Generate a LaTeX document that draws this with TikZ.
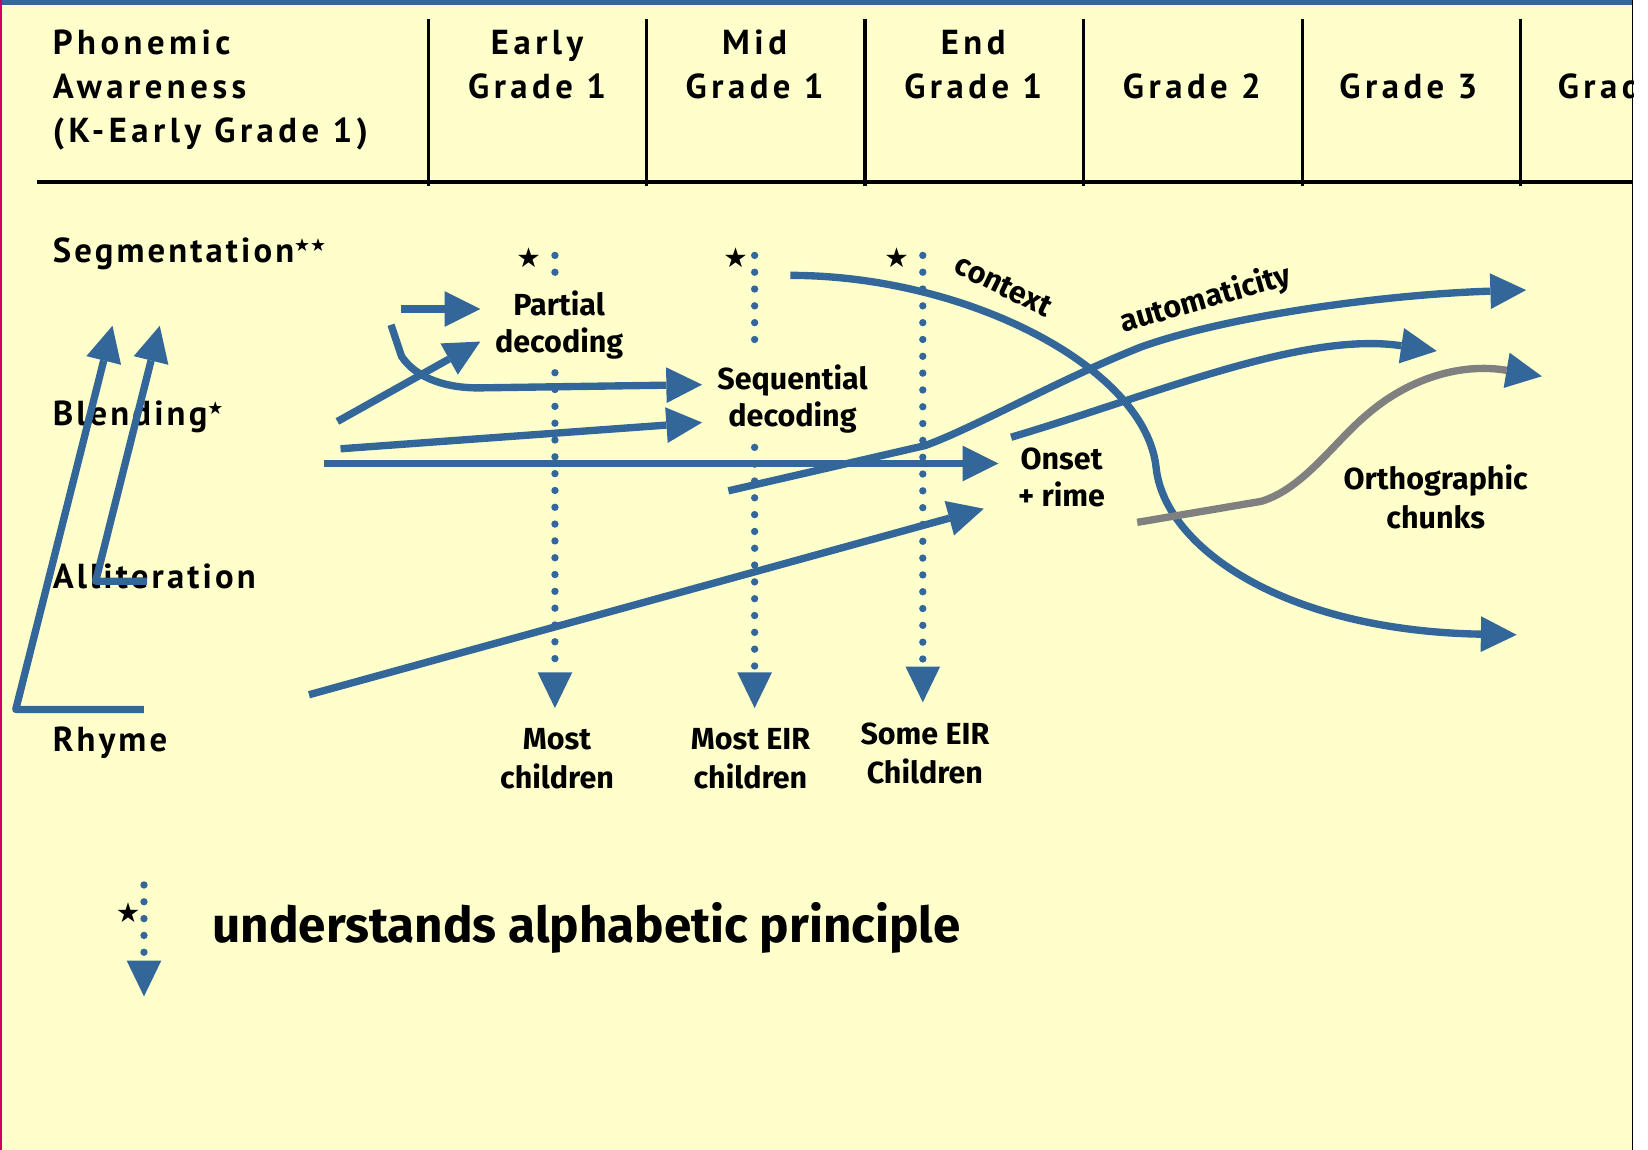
\documentclass[tikz,border=0pt]{standalone}
\usepackage{fontspec}
\usetikzlibrary{arrows.meta}
\newfontfamily\headfont[LetterSpace=13]{PT Sans}
\newfontfamily\rowfont[LetterSpace=9]{PT Sans}
\newfontfamily\labelfont{Fira Sans}
\newfontfamily\starfont{DejaVu Sans}
\definecolor{stepblue}{HTML}{336699}
\definecolor{sheet}{HTML}{FFFFCC}
\definecolor{chunkgray}{HTML}{808080}
\definecolor{pageedge}{HTML}{CC0066}
\tikzset{
    flow/.style={draw=stepblue, line width=7pt,
        -{Triangle[length=34pt,width=34pt,line width=0pt]}},
    dotline/.style={draw=stepblue, line width=7pt, line cap=round,
        dash pattern=on 0pt off 16pt},
    dottip/.style={-{Triangle[length=34pt,width=33pt,line width=0pt]},
        shorten >=17pt},
    headtext/.style={font=\headfont\bfseries\fontsize{33}{42}\selectfont,
        inner sep=0pt, align=center, anchor=base},
    rowtext/.style={font=\rowfont\bfseries\fontsize{33}{36}\selectfont,
        inner sep=0pt, anchor=base west},
    stagetext/.style={font=\labelfont\bfseries\fontsize{29}{35}\selectfont,
        align=center, anchor=base, inner sep=2pt},
    kidtext/.style={stagetext, font=\labelfont\bfseries\fontsize{29}{37}\selectfont},
    startext/.style={font=\starfont\fontsize{26}{26}\selectfont, inner sep=0pt}
}
\newcommand{\smallstars}[1]{\raisebox{11pt}{\starfont\fontsize{17}{17}\selectfont #1}}
\begin{document}
\begin{tikzpicture}[x=1pt,y=-1pt]
                \useasboundingbox (0,0) rectangle (1568,1094);
                \fill[white] (0,0) rectangle (1568,1094);
                \fill[sheet] (0,0) rectangle (1553,1094);
                \fill[stepblue] (0,0) rectangle (1553,4.5);
                \fill[pageedge] (0,0) rectangle (1.5,1094);
                \draw[line width=3.5pt]
                    (35,173) -- (1553,173);
                \draw[line width=3pt]
                    (408,18) -- (408,177);
                \draw[line width=3pt]
                    (615,18) -- (615,177);
                \draw[line width=3pt]
                    (823,18) -- (823,177);
                \draw[line width=3pt]
                    (1031,18) -- (1031,177);
                \draw[line width=3pt]
                    (1239,18) -- (1239,177);
                \draw[line width=3pt]
                    (1447,18) -- (1447,177);
                \node[headtext, anchor=base west, align=left] (pa) at (50,136)
                    {Phonemic\\Awareness\\(K-Early Grade 1)};
                \node[headtext] (early) at (511,94) {Early\\Grade 1};
                \node[headtext] (mid) at (718,94) {Mid\\Grade 1};
                \node[headtext] (endg1) at (926,94) {End\\Grade 1};
                \node[headtext] (g2) at (1134,94) {Grade 2};
                \node[headtext] (g3) at (1340,94) {Grade 3};
                \node[headtext, anchor=base west] (g4) at (1482,94) {Grade 4};
                \fill[white] (1554.5,5) rectangle (1568,1094);
                \draw[line width=1.2pt]
                    (1553.5,0) -- (1553.5,1094);
                \node[rowtext] (seg) at (50,250) {Segmentation\smallstars{★★}};
                \node[rowtext] (blend) at (50,405) {Blending\smallstars{★}};
                \node[rowtext] (allit) at (50,560) {Alliteration};
                \node[rowtext] (rhyme) at (50,715) {Rhyme};
                \node[stagetext, inner sep=13pt] (partial) at (532,335) {Partial\\decoding};
                \node[stagetext, inner sep=13pt] (seq) at (754,406) {Sequential\\decoding};
                \node[stagetext] (onset) at (1010,482) {Onset\\+ rime};
                \node[kidtext] (ortho) at (1366,503) {Orthographic\\chunks};
                \node[kidtext] (most) at (530,750) {Most\\children};
                \node[kidtext] (mosteir) at (714,750) {Most EIR\\children};
                \node[kidtext] (someeir) at (880,745) {Some EIR\\Children};
                \node[stagetext, anchor=center, rotate=-26] (ctx) at (955,272) {context};
                \node[stagetext, anchor=center, rotate=16] (auto) at (1147,285) {automaticity};
                \node[startext] (stara) at (503,245) {★};
                \node[startext] (starb) at (700,245) {★};
                \node[startext] (starc) at (853,245) {★};
                \node[startext] (keystar) at (122,868) {★};
                \node[font=\labelfont\bfseries\fontsize{47}{50}\selectfont,
                    anchor=base west, inner sep=0pt] (key) at (202,897)
                    {understands alphabetic principle};
                \coordinate (dota) at (528,243);
                \coordinate (dotb) at (718,243);
                \coordinate (dotc) at (878,243);
                \coordinate (keytop) at (137,842);
                \coordinate (keyend) at (137,965);
                \draw[dotline]
                    (dota) -- (dota |- partial.north);
                \draw[dotline, dottip]
                    (dota |- partial.south) -- (dota |- most.north);
                \draw[dotline, shorten >=10pt]
                    (dotb) -- (dotb |- seq.north);
                \draw[dotline, dottip]
                    (dotb |- seq.south) -- (dotb |- mosteir.north);
                \draw[dotline, dottip]
                    (dotc) -- (dotc |- someeir.north);
                \draw[dotline, dottip]
                    (keytop) -- (keyend);
                \coordinate (rhymeend) at (137,675);
                \coordinate (segtipa) at (107,310);
                \coordinate (allitend) at (140,553);
                \coordinate (segtipb) at (152,310);
                \coordinate (blendtail) at (382,294);
                \coordinate (partialtipa) at (457,294);
                \coordinate (blendtailb) at (321,401);
                \coordinate (partialtipb) at (457,325);
                \coordinate (hooktail) at (372,309);
                \coordinate (seqtipa) at (668,366);
                \coordinate (blendtailc) at (324,427);
                \coordinate (seqtipb) at (668,402);
                \coordinate (blendtaild) at (308,441);
                \coordinate (onsettipa) at (950,441);
                \coordinate (rhymetail) at (294,661);
                \coordinate (onsettipb) at (936,484);
                \coordinate (autotail) at (693,467);
                \coordinate (autotip) at (1452,276);
                \coordinate (onsettail) at (962,416);
                \coordinate (onsettip) at (1367,334);
                \coordinate (ctxtail) at (752,262);
                \coordinate (ctxtip) at (1443,604);
                \coordinate (chunktail) at (1082,497);
                \coordinate (chunktip) at (1467,358);
                \draw[flow, line join=round]
                    (rhymeend) -- (15,675) -- (segtipa);
                \draw[flow, line join=round]
                    (allitend) -- (91,553) -- (segtipb);
                \draw[flow]
                    (blendtail) -- (partialtipa);
                \draw[flow]
                    (blendtailb) -- (partialtipb);
                \draw[flow]
                    (hooktail) -- (382,339) .. controls (396,360) and (425,370) .. (460,369) -- (seqtipa);
                \draw[flow]
                    (blendtailc) -- (seqtipb);
                \draw[flow]
                    (blendtaild) -- (onsettipa);
                \draw[flow]
                    (rhymetail) -- (onsettipb);
                \draw[flow]
                    (autotail) -- (880,424) .. controls (925,408) and (1010,360) .. (1086,330)
                    .. controls (1170,300) and (1320,280) .. (autotip);
                \draw[flow]
                    (onsettail) .. controls (1100,375) and (1240,315) .. (onsettip);
                \draw[flow]
                    (ctxtail) .. controls (920,262) and (1090,350) .. (1100,445)
                    .. controls (1108,520) and (1220,600) .. (ctxtip);
                \draw[flow, draw=chunkgray,
                    -{Triangle[length=34pt,width=34pt,line width=0pt,color=stepblue]}]
                    (chunktail) -- (1200,477) .. controls (1240,465) and (1270,420) .. (1300,395)
                    .. controls (1340,360) and (1390,345) .. (chunktip);
\end{tikzpicture}
\end{document}
